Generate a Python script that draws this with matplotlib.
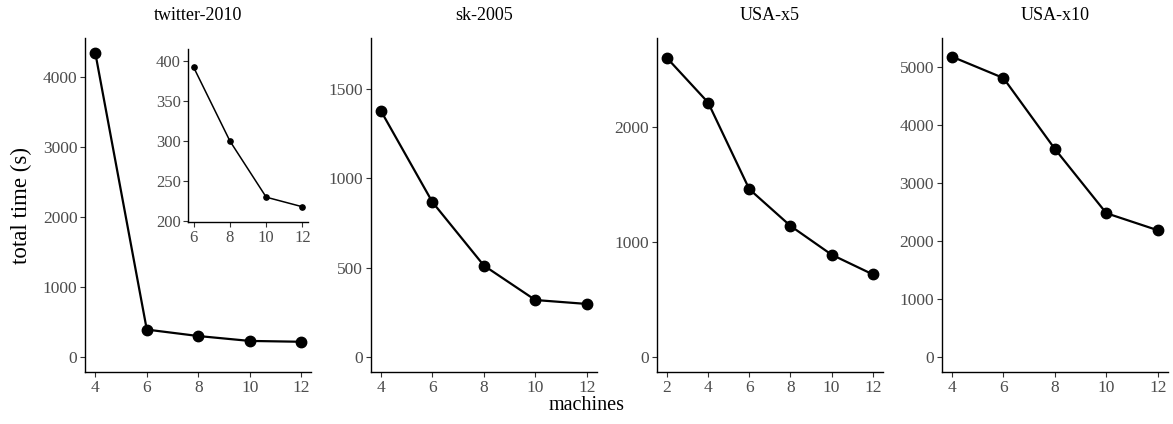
import matplotlib
matplotlib.use("Agg")
import matplotlib.pyplot as plt

plt.rcParams["font.family"] = ["Liberation Serif", "DejaVu Serif"]

# data
titles = ["twitter-2010", "sk-2005", "USA-x5", "USA-x10"]
machines = [
    [4, 6, 8, 10, 12],
    [4, 6, 8, 10, 12],
    [2, 4, 6, 8, 10, 12],
    [4, 6, 8, 10, 12],
]
total_time = [
    [4340, 392, 300, 230, 218],
    [1377, 867, 512, 319, 297],
    [2596, 2209, 1457, 1138, 888, 717],
    [5178, 4810, 3587, 2479, 2185],
]
yticks = [
    [0, 1000, 2000, 3000, 4000],
    [0, 500, 1000, 1500],
    [0, 1000, 2000],
    [0, 1000, 2000, 3000, 4000, 5000],
]
ylims = [(-214, 4557), (-84, 1786), (-131, 2770), (-260, 5502)]
xticks = [[4, 6, 8, 10, 12], [4, 6, 8, 10, 12], [2, 4, 6, 8, 10, 12], [4, 6, 8, 10, 12]]

inset_x = [6, 8, 10, 12]
inset_y = [392, 300, 230, 218]
inset_yticks = [200, 250, 300, 350, 400]
inset_xticks = [6, 8, 10, 12]

lefts = [0.0725, 0.316, 0.5598, 0.8028]
W, B, H = 0.193, 0.1226, 0.788
tick_col = "#4D4D4D"


def style(ax, size=12.5):
    for s in ["top", "right"]:
        ax.spines[s].set_visible(False)
    for s in ["left", "bottom"]:
        ax.spines[s].set_linewidth(1.0)
        ax.spines[s].set_color("black")
    ax.tick_params(length=3.5, width=0.8, color="#333333", labelcolor=tick_col,
                   labelsize=size, pad=2)


fig = plt.figure(figsize=(11.73, 4.24), dpi=100)

for i in range(4):
    ax = fig.add_axes([lefts[i], B, W, H])
    x = machines[i]
    ax.plot(x, total_time[i], color="black", lw=1.6, marker="o", ms=7.5)
    ax.set_xticks(xticks[i])
    ax.set_yticks(yticks[i])
    span = max(x) - min(x)
    ax.set_xlim(min(x) - 0.05 * span, max(x) + 0.05 * span)
    ax.set_ylim(*ylims[i])
    style(ax)
    fig.text(lefts[i] + W / 2, 1 - 16 / 424, titles[i], ha="center", va="center",
             fontsize=13)

# inset for twitter-2010
axi = fig.add_axes([0.1605, 0.4764, 0.102, 0.408])
axi.plot(inset_x, inset_y, color="black", lw=1.1, marker="o", ms=3.8)
axi.set_xticks(inset_xticks)
axi.set_yticks(inset_yticks)
axi.set_xlim(5.7, 12.3)
axi.set_ylim(199, 415)
style(axi, size=12)

fig.text(0.0185, 1 - 205 / 424, "total time (s)", rotation=90, ha="center",
         va="center", fontsize=16.5)
fig.text(0.5, 1 - 405 / 424, "machines", ha="center", va="center", fontsize=14.5)

fig.savefig("out.png", dpi=100)
